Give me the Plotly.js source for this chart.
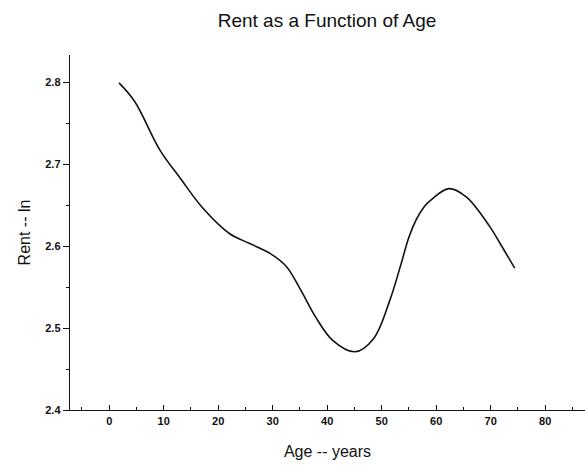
<!DOCTYPE html>
<html>
<head>
<meta charset="utf-8">
<script src="https://cdn.plot.ly/plotly-3.0.1.min.js"></script>
<style>
body{margin:0;background:#fff}
#chart{width:585px;height:465px}
</style>
</head>
<body>
<div id="chart"></div>
<script>
// curve: age (years) vs ln rent
let age=[1.8,4.7,9.3,13.0,17.2,22.1,25.8,29.5,32.5,35.0,38.0,41.0,45.1,48.5,51.5,53.5,55.0,56.4,57.8,59.0,62.3,65.5,69.8,72.0,74.4]
let rent=[2.799,2.776,2.717,2.683,2.646,2.615,2.603,2.591,2.575,2.548,2.512,2.485,2.471,2.487,2.534,2.577,2.611,2.633,2.648,2.656,2.670,2.660,2.624,2.600,2.573]

let trace={
    x:age,
    y:rent,
    type:'scatter',
    mode:'lines',
    line:{color:'#111',width:1.6,shape:'spline',smoothing:1},
    hoverinfo:'skip'
}

let fnt='Arial, "Liberation Sans", sans-serif'
let layout={
    width:585,
    height:465,
    paper_bgcolor:'#fff',
    plot_bgcolor:'#fff',
    showlegend:false,
    margin:{l:70,r:0,t:55,b:55},
    title:{text:'Rent as a Function of Age',x:0.559,xanchor:'center',y:0.957,yanchor:'middle',
        font:{family:fnt,size:19,color:'#111'}},
    xaxis:{
        range:[-7.2,87.3],
        tickvals:[0,10,20,30,40,50,60,70,80],
        ticks:'inside',ticklen:5,tickcolor:'#111',
        minor:{dtick:5,tick0:0,ticks:'inside',ticklen:3,tickcolor:'#111'},
        showgrid:false,zeroline:false,
        showline:true,linecolor:'#111',linewidth:1.3,
        tickfont:{family:fnt,size:11,color:'#111',weight:'bold'},
        title:{text:'Age -- years',font:{family:fnt,size:16,color:'#111'},standoff:20}
    },
    yaxis:{
        range:[2.4,2.833],
        tickvals:[2.4,2.5,2.6,2.7,2.8],
        ticktext:['2.4','2.5','2.6','2.7','2.8'],
        ticks:'outside',ticklen:6,tickcolor:'#111',
        minor:{dtick:0.05,tick0:2.4,ticks:'outside',ticklen:3,tickcolor:'#111'},
        showgrid:false,zeroline:false,
        showline:true,linecolor:'#111',linewidth:1.3,
        tickfont:{family:fnt,size:11,color:'#111',weight:'bold'},
        title:{text:'Rent -- ln',font:{family:fnt,size:16,color:'#111'},standoff:10}
    }
}

Plotly.newPlot('chart',[trace],layout,{staticPlot:true,displayModeBar:false})
</script>
</body>
</html>
